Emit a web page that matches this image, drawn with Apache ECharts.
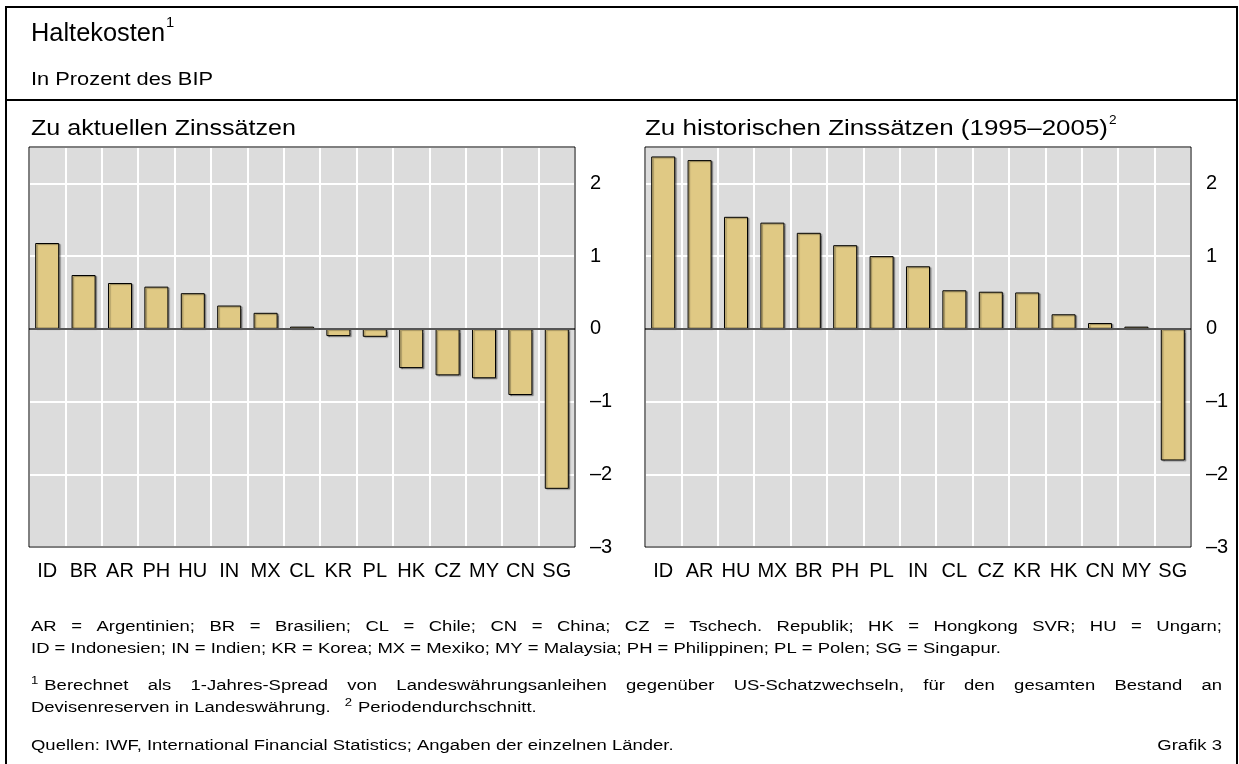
<!DOCTYPE html>
<html>
<head>
<meta charset="utf-8">
<script src="https://cdn.jsdelivr.net/npm/echarts@6/dist/echarts.min.js"></script>
<style>
  html, body { margin: 0; padding: 0; background: #fff; }
  #chart { width: 1239px; height: 764px; }
</style>
</head>
<body>
<div id="chart"></div>
<script>
// --- data ---
var catsCurrent = ['ID', 'BR', 'AR', 'PH', 'HU', 'IN', 'MX', 'CL', 'KR', 'PL', 'HK', 'CZ', 'MY', 'CN', 'SG'];
var valsCurrent = [1.18, 0.74, 0.63, 0.58, 0.49, 0.32, 0.22, 0.03, -0.10, -0.11, -0.54, -0.64, -0.68, -0.91, -2.20];
var catsHist = ['ID', 'AR', 'HU', 'MX', 'BR', 'PH', 'PL', 'IN', 'CL', 'CZ', 'KR', 'HK', 'CN', 'MY', 'SG'];
var valsHist = [2.37, 2.32, 1.54, 1.46, 1.32, 1.15, 1.00, 0.86, 0.53, 0.51, 0.50, 0.20, 0.08, 0.03, -1.81];
var yTicks = [-3, -2, -1, 0, 1, 2];

var FONT = '"Liberation Sans", Arial, sans-serif';
var barColor = '#e0c984';
var plotBg = '#dcdcdc';

var ctx = document.createElement('canvas').getContext('2d');
function measure(t, size) {
  ctx.font = size + 'px ' + FONT;
  return ctx.measureText(t).width;
}

var graphics = [];

function addText(t, x, y, size, sx) {
  graphics.push({
    type: 'text', x: x, y: y, scaleX: sx, silent: true, z: 20,
    style: { text: t, fontSize: size, fontFamily: FONT, fill: '#000',
             align: 'left', verticalAlign: 'middle' }
  });
  return x + measure(t, size) * sx;
}
// text squeezed or stretched to a width
function addFit(t, x, y, size, width) {
  return addText(t, x, y, size, width / measure(t, size));
}

// a line of words; '^' marks a superscript; if width is given the line is justified
function addLine(tokens, x0, y, size, sx, width) {
  var supGap = 6;
  var items = tokens.map(function (t) {
    var sup = t.charAt(0) === '^';
    var s = sup ? t.slice(1) : t;
    var fs = sup ? Math.round(size * 0.7) : size;
    return { s: s, sup: sup, fs: fs, w: measure(s, fs) * sx };
  });
  var sum = 0, nGaps = 0, fixed = 0;
  items.forEach(function (it, i) {
    sum += it.w;
    if (i < items.length - 1) { if (it.sup) fixed += supGap; else nGaps++; }
  });
  var gap = width ? (width - sum - fixed) / nGaps : measure(' ', size) * sx;
  var x = x0;
  items.forEach(function (it, i) {
    addText(it.s, x, it.sup ? y - size * 0.35 : y, it.fs, sx);
    x += it.w + (i < items.length - 1 ? (it.sup ? supGap : gap) : 0);
  });
  return x;
}

// frame
function frameLine(x1, y1, x2, y2) {
  graphics.push({ type: 'line', silent: true, z: 30,
    shape: { x1: x1, y1: y1, x2: x2, y2: y2 },
    style: { stroke: '#000', lineWidth: 2 } });
}
frameLine(6, 7, 1237, 7);
frameLine(6, 6, 6, 764);
frameLine(1237, 6, 1237, 764);
frameLine(6, 100, 1237, 100);

// titles
var e = addFit('Haltekosten', 31, 34, 26, 134);
addText('1', e + 1, 23, 14, 1.05);
addFit('In Prozent des BIP', 31, 80, 18.5, 182);
addFit('Zu aktuellen Zinssätzen', 31, 129, 22.5, 265);
e = addFit('Zu historischen Zinssätzen (1995–2005)', 645, 129, 22.5, 463);
addText('2', e + 1, 120, 13, 1.05);

// footnotes
var fs = 15.5;
var line2 = 'ID = Indonesien; IN = Indien; KR = Korea; MX = Mexiko; MY = Malaysia; PH = Philippinen; PL = Polen; SG = Singapur.';
var fsx = 970 / measure(line2, fs);
addLine('AR = Argentinien; BR = Brasilien; CL = Chile; CN = China; CZ = Tschech. Republik; HK = Hongkong SVR; HU = Ungarn;'.split(' '), 31, 627, fs, fsx, 1191);
addLine(line2.split(' '), 31, 649, fs, fsx);
addLine(['^1'].concat('Berechnet als 1-Jahres-Spread von Landeswährungsanleihen gegenüber US-Schatzwechseln, für den gesamten Bestand an'.split(' ')), 31, 686, fs, fsx, 1191);
e = addLine('Devisenreserven in Landeswährung.'.split(' '), 31, 708, fs, fsx);
addLine(['^2', 'Periodendurchschnitt.'], e + 14, 708, fs, fsx);
addLine('Quellen: IWF, International Financial Statistics; Angaben der einzelnen Länder.'.split(' '), 31, 746, fs, fsx);
addText('Grafik 3', 1222 - measure('Grafik 3', fs) * fsx, 746, fs, fsx);

// plot borders on top
var grids = [
  { left: 29, top: 147, width: 546, height: 400 },
  { left: 645, top: 147, width: 546, height: 400 }
];
grids.forEach(function (g) {
  graphics.push({ type: 'rect', silent: true, z: 15,
    shape: { x: g.left, y: g.top, width: g.width, height: g.height },
    style: { fill: 'none', stroke: '#000', lineWidth: 1 } });
});

function fmt(v) {
  if (yTicks.indexOf(v) < 0) return '';
  return v < 0 ? '–' + Math.abs(v) : String(v);
}

function xAxisFor(cats, i) {
  return {
    type: 'category', gridIndex: i, data: cats,
    axisLine: { show: false }, axisTick: { show: false },
    axisLabel: { interval: 0, margin: 14, fontSize: 20, fontFamily: FONT, color: '#000' },
    splitLine: { show: true, interval: 0, lineStyle: { color: '#fff', width: 2 } }
  };
}
function yAxisFor(i) {
  return {
    type: 'value', gridIndex: i, position: 'right', min: -3, max: 2.5, interval: 1,
    axisLine: { show: false }, axisTick: { show: false },
    axisLabel: { margin: 15, fontSize: 20, fontFamily: FONT, color: '#000', formatter: fmt },
    splitLine: { show: true, lineStyle: { color: '#fff', width: 2 } }
  };
}
function barSeries(vals, i) {
  return {
    type: 'bar', xAxisIndex: i, yAxisIndex: i, data: vals, barWidth: '66%',
    itemStyle: { color: barColor, borderColor: '#000', borderWidth: 1,
                 shadowColor: 'rgba(0,0,0,0.35)', shadowOffsetX: 1.5, shadowOffsetY: 1, shadowBlur: 1 },
    markLine: { silent: true, symbol: 'none', label: { show: false },
                lineStyle: { color: '#555', width: 2, type: 'solid' },
                data: [{ yAxis: 0 }] }
  };
}

var chart = echarts.init(document.getElementById('chart'), null, { renderer: 'canvas' });
chart.setOption({
  animation: false,
  grid: grids.map(function (g) {
    return { left: g.left, top: g.top, width: g.width, height: g.height,
             show: true, backgroundColor: plotBg, borderWidth: 0, containLabel: false };
  }),
  xAxis: [xAxisFor(catsCurrent, 0), xAxisFor(catsHist, 1)],
  yAxis: [yAxisFor(0), yAxisFor(1)],
  series: [barSeries(valsCurrent, 0), barSeries(valsHist, 1)],
  graphic: { elements: graphics }
});
window.addEventListener('resize', function () { chart.resize(); });
</script>
</body>
</html>
